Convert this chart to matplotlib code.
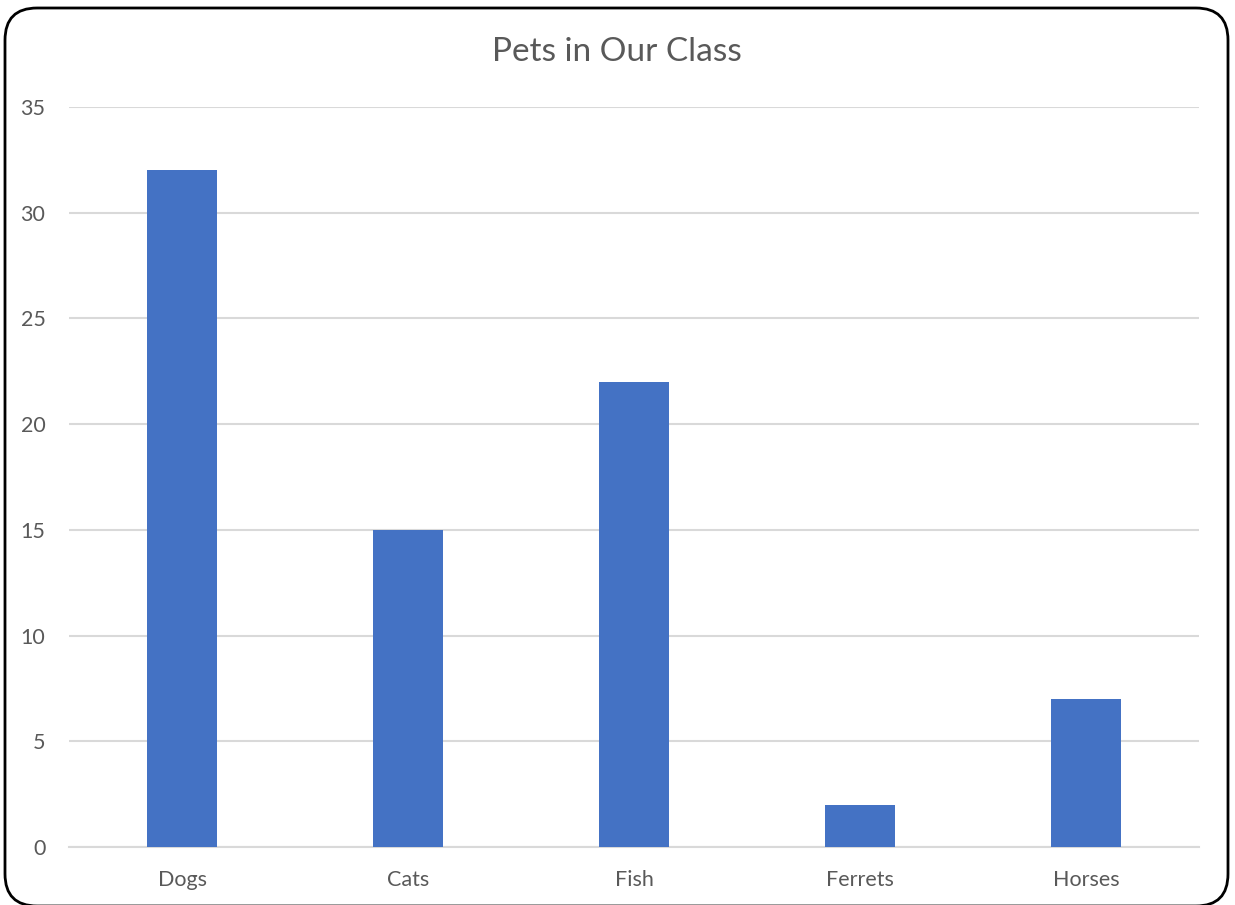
import matplotlib
matplotlib.use("Agg")
import matplotlib.pyplot as plt
from matplotlib.patches import FancyBboxPatch

categories = ["Dogs", "Cats", "Fish", "Ferrets", "Horses"]
counts = [32, 15, 22, 2, 7]
y_ticks = [0, 5, 10, 15, 20, 25, 30, 35]

plt.rcParams['font.family'] = ['Lato', 'DejaVu Sans']
text_color = "#595959"
grid_color = "#d9d9d9"
bar_color = "#4472C4"

W, H = 1235, 905
dpi = 100
fig = plt.figure(figsize=(W / dpi, H / dpi), dpi=dpi)

# rounded chart frame
frame = FancyBboxPatch((5 / W, -1 / H), 1223 / W, 898 / H,
                       boxstyle="round,pad=0,rounding_size=0.026",
                       transform=fig.transFigure, facecolor="none",
                       edgecolor="black", linewidth=2, mutation_aspect=W / H,
                       zorder=5)
fig.patches.append(frame)

left, right, top, bottom = 69, 1199, 107, 847
ax = fig.add_axes([left / W, 1 - bottom / H, (right - left) / W, (bottom - top) / H])
ax.set_facecolor("none")

x = range(len(categories))
ax.bar(x, counts, width=0.314, color=bar_color, zorder=3)

ax.set_xlim(-0.5, len(categories) - 0.5)
ax.set_ylim(0, 35)
ax.set_yticks(y_ticks)
ax.set_xticks(list(x))
ax.set_xticklabels(categories)
ax.yaxis.grid(True, color=grid_color, linewidth=1.5, zorder=0)
ax.set_axisbelow(True)
for s in ["top", "right", "left"]:
    ax.spines[s].set_visible(False)
ax.spines["bottom"].set_color(grid_color)
ax.spines["bottom"].set_linewidth(1.5)
ax.tick_params(axis="both", length=0, labelcolor=text_color, labelsize=15.5)
ax.tick_params(axis="y", pad=17)
ax.tick_params(axis="x", pad=16.5)

fig.text(617 / W, 1 - 52 / H, "Pets in Our Class", ha="center", va="center",
         fontsize=24, color=text_color)

fig.savefig("out.png", dpi=dpi)
